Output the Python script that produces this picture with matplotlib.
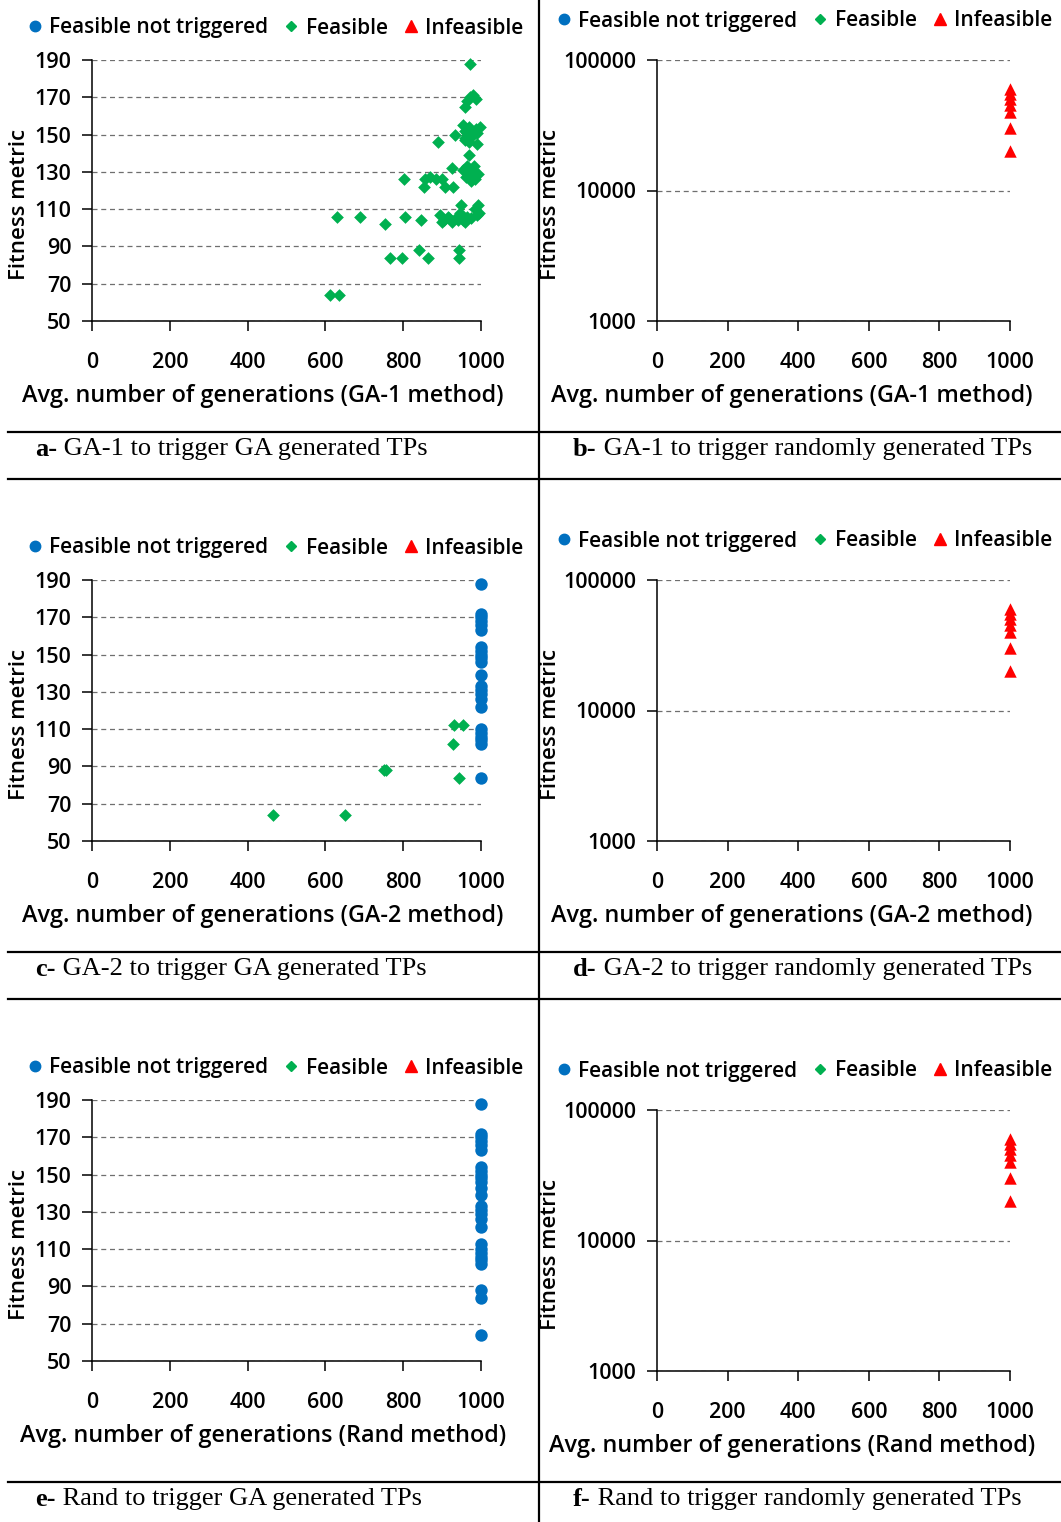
import matplotlib
matplotlib.use('Agg')
from matplotlib import pyplot as plt
from matplotlib.lines import Line2D

W, H = 1061, 1522

BLUE = '#0070C0'
GREEN = '#00B050'
RED = '#FF0000'

# GA-1 on GA generated TPs: feasible points (generations, fitness)
a_feas_x = [612, 635, 629, 690, 753, 805, 846, 766, 796, 840, 864, 944, 944,
            803, 856, 870, 885, 900, 854, 908, 928, 895, 905, 915, 925, 935,
            945, 955, 965, 975, 990, 949, 992, 889, 933, 925, 963, 970, 975,
            980, 985, 993, 958, 968, 978, 988, 960, 970, 980, 990, 953, 965,
            975, 985, 998, 970, 960, 965, 972, 980, 988, 972, 940, 950, 960,
            985, 995, 955, 962, 975, 982, 958, 990, 900, 918]
a_feas_y = [64, 64, 106, 106, 102, 106, 104, 84, 84, 88, 84, 88, 84,
            126, 126, 127, 126, 126, 122, 122, 122, 107, 104, 106, 103, 105,
            108, 104, 106, 105, 107, 112, 112, 146, 150, 132, 133, 130, 128,
            131, 126, 129, 152, 154, 150, 153, 148, 146, 150, 145, 155, 151,
            149, 152, 154, 139, 165, 168, 170, 171, 169, 188, 104, 106, 103,
            110, 108, 131, 127, 125, 133, 147, 151, 103, 105]

# GA-2 on GA generated TPs
c_feas_x = [465, 650, 751, 757, 929, 931, 953, 943]
c_feas_y = [64, 64, 88, 88, 102, 112, 112, 84]
c_nt_x = [1000] * 23
c_nt_y = [188, 172, 170, 168, 166, 163, 154, 152, 150, 148, 146, 139,
          133, 131, 129, 126, 122, 110, 108, 106, 104, 102, 84]

# Rand on GA generated TPs
e_nt_x = [1000] * 27
e_nt_y = [188, 172, 170, 168, 166, 163, 154, 152, 150, 148, 146, 143, 139,
          133, 131, 129, 126, 122, 113, 110, 108, 106, 104, 102, 88, 84, 64]

# Randomly generated TPs: all infeasible
inf_x = [1000] * 7
inf_y = [60000, 55000, 50000, 45000, 40000, 30000, 20000]

x_ticks = [0, 200, 400, 600, 800, 1000]
lin_ticks = [50, 70, 90, 110, 130, 150, 170, 190]
log_ticks = [1000, 10000, 100000]

captions = [
    ('a-', ' GA-1 to trigger GA generated TPs'),
    ('b-', ' GA-1 to trigger randomly generated TPs'),
    ('c-', ' GA-2 to trigger GA generated TPs'),
    ('d-', ' GA-2 to trigger randomly generated TPs'),
    ('e-', ' Rand to trigger GA generated TPs'),
    ('f-', ' Rand to trigger randomly generated TPs'),
]
methods = ['GA-1', 'GA-1', 'GA-2', 'GA-2', 'Rand', 'Rand']

FONT = 'Open Sans'


def fx(px):
    return px / W


def fy(py):
    return 1 - py / H


def make_axes(fig, left, top, right, bottom):
    return fig.add_axes([fx(left), fy(bottom), fx(right - left), (bottom - top) / H])


def style_axes(ax, log=False):
    for s in ('top', 'right'):
        ax.spines[s].set_visible(False)
    ax.spines['left'].set_linewidth(1.1)
    ax.spines['bottom'].set_linewidth(1.1)
    ax.set_xlim(0, 1000)
    ax.set_xticks(x_ticks)
    if log:
        ax.set_yscale('log')
        ax.set_ylim(1000, 100000)
        ax.set_yticks(log_ticks)
        ax.set_yticklabels([str(t) for t in log_ticks])
        ax.minorticks_off()
    else:
        ax.set_ylim(50, 190)
        ax.set_yticks(lin_ticks)
    ax.tick_params(axis='both', direction='out', length=7, width=1.1,
                   labelsize=15.5, pad=8)
    ax.tick_params(axis='x', pad=15)
    for lab in ax.get_xticklabels() + ax.get_yticklabels():
        lab.set_fontfamily(FONT)
        lab.set_fontweight('semibold')
    ax.grid(axis='y', linestyle=(0, (4, 3)), color='#6f6f6f', linewidth=0.9)
    ax.set_axisbelow(True)


def add_legend(fig, cx, cy):
    handles = [
        Line2D([], [], marker='o', color=BLUE, linestyle='none', markersize=7.5),
        Line2D([], [], marker='D', color=GREEN, linestyle='none', markersize=5.5),
        Line2D([], [], marker='^', color=RED, linestyle='none', markersize=8.5),
    ]
    labels = ['Feasible not triggered', 'Feasible', 'Infeasible']
    fig.legend(handles, labels, loc='center', bbox_to_anchor=(fx(cx), fy(cy)),
               ncol=3, frameon=False, handlelength=0.6, handletextpad=0.4,
               columnspacing=0.8,
               prop={'family': FONT, 'size': 15, 'weight': 'semibold'})


def main():
    fig = plt.figure(figsize=(W / 100, H / 100), dpi=100)

    boxes = [
        (92, 60, 481, 321), (657, 60, 1010, 321),
        (92, 580, 481, 841), (657, 580, 1010, 841),
        (92, 1100, 481, 1361), (657, 1110, 1010, 1371),
    ]
    legend_y = [28, 21, 548, 541, 1068, 1071]
    caption_y = [449, 449, 969, 969, 1499, 1499]

    for i, (left, top, right, bottom) in enumerate(boxes):
        log = i % 2 == 1
        ax = make_axes(fig, left, top, right, bottom)
        style_axes(ax, log)

        if i == 0:
            ax.scatter(a_feas_x, a_feas_y, marker='D', s=42, color=GREEN,
                       linewidths=0, zorder=3)
        elif i == 2:
            ax.scatter(c_feas_x, c_feas_y, marker='D', s=42, color=GREEN,
                       linewidths=0, zorder=3)
            ax.scatter(c_nt_x, c_nt_y, marker='o', s=80, color=BLUE,
                       linewidths=0, zorder=3)
        elif i == 4:
            ax.scatter(e_nt_x, e_nt_y, marker='o', s=80, color=BLUE,
                       linewidths=0, zorder=3)
        else:
            ax.scatter(inf_x, inf_y, marker='^', s=80, color=RED,
                       linewidths=0, zorder=3)
        for c in ax.collections:
            c.set_clip_on(False)

        # axis titles placed in figure pixels
        if log:
            lx, cx = 550, 792
        else:
            lx, cx = 20, 263
        fig.text(fx(cx), fy(bottom + 75),
                 'Avg. number of generations (%s method)' % methods[i],
                 ha='center', va='center', family=FONT, size=16.8,
                 weight='semibold')
        fig.text(fx(lx), fy((top + bottom) / 2 + 14), 'Fitness metric',
                 rotation=90, ha='center', va='center', family=FONT, size=16,
                 weight='semibold')

        add_legend(fig, 276 if not log else 805, legend_y[i])

        tx = 35 if not log else 573
        t = fig.text(fx(tx), fy(caption_y[i]), captions[i][0], ha='left',
                     va='center', family='Liberation Serif', size=19,
                     weight='bold')
        fig.canvas.draw()
        bb = t.get_window_extent()
        fig.text(bb.x1 / W, fy(caption_y[i]), captions[i][1], ha='left',
                 va='center', family='Liberation Serif', size=19)

    # table rules around the panels
    for y in (432, 479, 952, 999, 1482):
        fig.add_artist(Line2D([fx(8), 1], [fy(y), fy(y)], color='black',
                              linewidth=1.6))
    fig.add_artist(Line2D([fx(539), fx(539)], [0, 1], color='black',
                          linewidth=1.6))

    fig.savefig('out.png', dpi=100)


if __name__ == '__main__':
    main()
